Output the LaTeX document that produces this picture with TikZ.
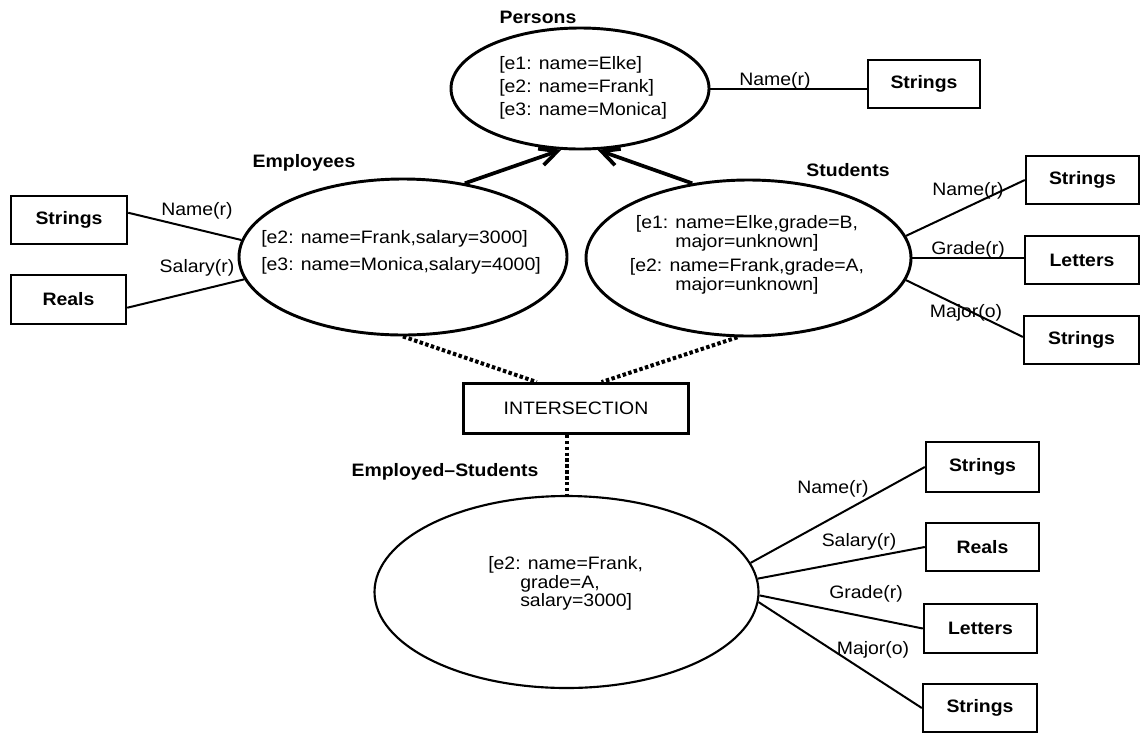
\documentclass[tikz,border=0pt]{standalone}
\usepackage{fontspec}
\setmainfont{Liberation Sans}[FakeStretch=1.08]
\usetikzlibrary{shapes.geometric,arrows.meta}

\tikzset{
  setnode/.style={ellipse, draw, line width=2.2pt, inner sep=0pt},
  txt/.style={inner sep=0pt, font=\fontsize{13.5}{16}\selectfont},
  ttl/.style={inner sep=0pt, font=\fontsize{13.5}{16}\selectfont\bfseries},
  dombox/.style={draw, line width=1.8pt, inner sep=0pt,
    minimum width=85pt, minimum height=36pt,
    font=\fontsize{13.5}{16}\selectfont\bfseries},
  attr/.style={line width=1.5pt},
  isa/.style={line width=2.8pt,
    -{Straight Barb[length=13pt,width=13pt,line width=2.8pt]}},
  dots/.style={line width=3pt, dash pattern=on 2.6pt off 1.8pt},
}

\begin{document}
\begin{tikzpicture}[x=0.75pt,y=-0.75pt]
\useasboundingbox (0,0) rectangle (1141,733);

% ---------- Persons ----------
\node[setnode, minimum width=193.5pt, minimum height=90.75pt] (per) at (580,88.5) {};
\node[ttl] (perttl) at (538,17) {Persons};
\node[txt, anchor=west, align=left, font=\fontsize{13.5}{17.25}\selectfont] (pertxt) at (499,88)
  {{[e1: name=Elke]}\\{[e2: name=Frank]}\\{[e3: name=Monica]}};
\node[dombox, minimum width=84pt] (s1) at (924,84) {Strings};
\draw[attr] (per.east) -- (per.east -| s1.west);
\node[txt] (l1) at (775,81) {Name(r)};

% ---------- Employees ----------
\node[setnode, minimum width=246pt, minimum height=117pt] (emp) at (403,257) {};
\node[ttl] (empttl) at (304,163) {Employees};
\node[txt, anchor=west, align=left, font=\fontsize{13.5}{20.25}\selectfont] (emptxt) at (261,252.5)
  {{[e2: name=Frank,salary=3000]}\\{[e3: name=Monica,salary=4000]}};
\node[dombox, minimum width=87pt] (s2) at (69,220) {Strings};
\node[dombox, minimum width=86.25pt, minimum height=36.75pt] (r1) at (68.5,299.5) {Reals};
\draw[attr] (s2.7) -- (emp.174.4);
\draw[attr] (r1.-8) -- (emp.188);
\node[txt] (l2) at (197,211) {Name(r)};
\node[txt] (l3) at (197,268) {Salary(r)};

% ---------- Students ----------
\node[setnode, minimum width=243.75pt, minimum height=117pt] (stu) at (748.5,258) {};
\node[ttl] (stuttl) at (848,170) {Students};
\node[txt, align=center, font=\fontsize{13.5}{14.25}\selectfont] (stutxt) at (747,254.5)
  {{[e1: name=Elke,grade=B,}\\{major=unknown]}\\[3.75pt]{[e2: name=Frank,grade=A,}\\{major=unknown]}};
\node[dombox, minimum width=84.75pt] (s3) at (1082.5,180) {Strings};
\node[dombox, minimum width=85.5pt] (t1) at (1082,260) {Letters};
\node[dombox, minimum width=86.25pt] (s4) at (1081.5,340) {Strings};
\draw[attr] (stu.8) -- (s3.west);
\draw[attr] (stu.east) -- (stu.east -| t1.west);
\draw[attr] (stu.-8) -- (s4.177);
\node[txt] (l4) at (968,191) {Name(r)};
\node[txt] (l5) at (968,250) {Grade(r)};
\node[txt] (l6) at (966,313) {Major(o)};

% ---------- is-a arrows ----------
\draw[isa] (emp.50.5) -- (per.253.7);
\draw[isa] (stu.127.8) -- (per.286.3);

% ---------- Intersection ----------
\node[draw, line width=2.2pt, inner sep=0pt, minimum width=168.75pt, minimum height=37.5pt,
  font=\fontsize{13.5}{16}\selectfont] (inter) at (576,408.5) {INTERSECTION};
\draw[dots] (emp.south) -- (inter.146.1);
\draw[dots] (stu.262) -- (inter.46.7);

% ---------- Employed-Students ----------
\node[setnode, line width=1.6pt, minimum width=288pt, minimum height=144pt] (es) at (566.5,592) {};
\node[ttl] (esttl) at (445,472) {Employed--Students};
\draw[dots] (inter.south -| es.north) -- (es.north);
\node[txt, anchor=west, align=left, font=\fontsize{13.5}{13.9}\selectfont] (estxt) at (488,583.5)
  {{[e2: name=Frank,}\\\hspace*{24pt}grade=A,\\\hspace*{24pt}salary=3000]};
\node[dombox, minimum width=84.75pt, minimum height=37.5pt] (s5) at (982.5,467) {Strings};
\node[dombox, minimum width=84.75pt] (r2) at (982.5,547) {Reals};
\node[dombox, minimum width=84.75pt, minimum height=36.75pt] (t2) at (980.5,628.5) {Letters};
\node[dombox, minimum width=85.5pt] (s6) at (980,708) {Strings};
\draw[attr] (es.9.5) -- (s5.west);
\draw[attr] (es.4.5) -- (r2.west);
\draw[attr] (es.-1.2) -- (t2.west);
\draw[attr] (es.-3.5) -- (s6.west);
\node[txt] (l7) at (833,489) {Name(r)};
\node[txt] (l8) at (859,542) {Salary(r)};
\node[txt] (l9) at (866,594) {Grade(r)};
\node[txt] (l10) at (873,650) {Major(o)};
\end{tikzpicture}
\end{document}
